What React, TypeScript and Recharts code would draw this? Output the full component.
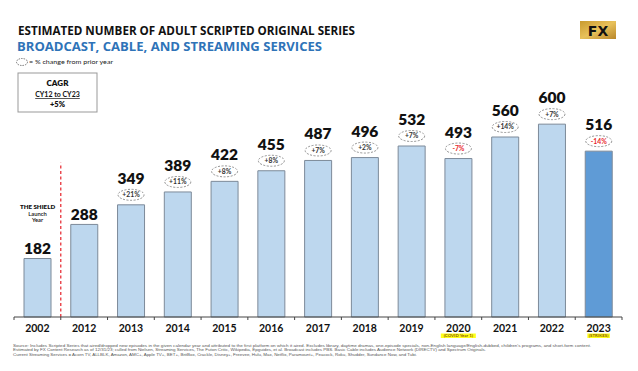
import React from 'react';
import { BarChart, Bar, XAxis, YAxis, Cell, LabelList, ReferenceLine } from 'recharts';

const years = ['2002', '2012', '2013', '2014', '2015', '2016', '2017', '2018', '2019', '2020', '2021', '2022', '2023'];
const seriesCounts = [182, 288, 349, 389, 422, 455, 487, 496, 532, 493, 560, 600, 516];
const pctChange = ['', '', '+21%', '+11%', '+8%', '+8%', '+7%', '+2%', '+7%', '-7%', '+14%', '+7%', '-14%'];
const yearNotes = ['', '', '', '', '', '', '', '', '', '(COVID Year 1)', '', '', '(STRIKES)'];
const highlightYear = '2023';
const launchYear = '2002';
const launchNote = ['THE SHIELD', 'Launch', 'Year'];

const data = years.map((y, i) => ({ year: y, count: seriesCounts[i], pct: pctChange[i], note: yearNotes[i] }));

const W = 638;
const H = 371;
const M = { top: 92, right: 16, bottom: 24, left: 14 };
const HALF_BAND = (W - M.left - M.right) / years.length / 2;
const FONT = 'Lato, "Open Sans", sans-serif';

const YearTick = (props: any) => {
  const { x, y, payload } = props;
  const idx = years.indexOf(payload.value);
  const note = yearNotes[idx];
  const isLast = idx === years.length - 1;
  return (
    <g>
      <line x1={x - HALF_BAND} x2={x - HALF_BAND} y1={y} y2={y + 3} stroke="#444" strokeWidth={1} />
      {isLast && <line x1={x + HALF_BAND} x2={x + HALF_BAND} y1={y} y2={y + 3} stroke="#444" strokeWidth={1} />}
      <text x={x} y={y + 15} textAnchor="middle" fontFamily={FONT} fontWeight={700} fontSize={10.5} fill="#111">
        {payload.value}
      </text>
      {note && (
        <g>
          <rect x={x - note.length * 1.25} y={y + 16.5} width={note.length * 2.5} height={4.5} fill="#ffff1a" />
          <text x={x} y={y + 20.3} textAnchor="middle" fontFamily={FONT} fontWeight={700} fontSize={4.4} fill="#8a5a00">
            {note}
          </text>
        </g>
      )}
    </g>
  );
};

const ValueLabel = (props: any) => {
  const { x, y, width, index } = props;
  const cx = x + width / 2;
  const pct = pctChange[index];
  const value = seriesCounts[index];
  const isLaunch = years[index] === launchYear;
  return (
    <g>
      {pct ? (
        <g>
          <ellipse cx={cx} cy={y - 10} rx={13} ry={5.5} fill="#fff" stroke="#777" strokeWidth={0.8} strokeDasharray="2 1.5" />
          <text x={cx} y={y - 7.6} textAnchor="middle" fontFamily={FONT} fontWeight={700} fontSize={6.8}
            fill={pct.startsWith('-') ? '#e8262b' : '#333'}>
            {pct}
          </text>
          <text x={cx} y={y - 21} textAnchor="middle" fontFamily={FONT} fontWeight={800} fontSize={15.5} fill="#111">
            {value}
          </text>
        </g>
      ) : (
        <text x={cx} y={y - 4.5} textAnchor="middle" fontFamily={FONT} fontWeight={800} fontSize={15.5} fill="#111">
          {value}
        </text>
      )}
      {isLaunch && (
        <g fontFamily={FONT} textAnchor="middle" fill="#111">
          <text x={cx} y={y - 50} fontSize={6.2} fontWeight={800}>{launchNote[0]}</text>
          <text x={cx} y={y - 43} fontSize={5.8} fontWeight={600}>{launchNote[1]}</text>
          <text x={cx} y={y - 36.5} fontSize={5.8} fontWeight={600}>{launchNote[2]}</text>
        </g>
      )}
    </g>
  );
};

export default function App() {
  return (
    <div style={{ position: 'absolute', left: 0, top: 0, width: W, height: H, background: '#fff' }}>
      <BarChart width={W} height={H} data={data} margin={M}>
        <XAxis
          dataKey="year"
          height={30}
          tick={<YearTick />}
          tickLine={false}
          tickSize={0}
          tickMargin={0}
          axisLine={{ stroke: '#444', strokeWidth: 1 }}
          interval={0}
        />
        <YAxis hide domain={[0, 700]} />
        <ReferenceLine
          segment={[{ x: launchYear, y: 0 }, { x: launchYear, y: 480 }]}
          position="end"
          stroke="#e8323a"
          strokeWidth={1.3}
          strokeDasharray="3 2.5"
          ifOverflow="visible"
        />
        <Bar dataKey="count" barSize={27} stroke="#7d8a99" strokeWidth={1} isAnimationActive={false}>
          {data.map((d) => (
            <Cell key={d.year} fill={d.year === highlightYear ? '#5f9bd6' : '#bdd7ee'} />
          ))}
          <LabelList dataKey="count" content={<ValueLabel />} />
        </Bar>
      </BarChart>
      <svg width={W} height={H} style={{ position: 'absolute', left: 0, top: 0, pointerEvents: 'none' }}>
        <text x={18} y={35} fontFamily='"Open Sans", sans-serif' fontWeight={700} fontSize={12.5} fill="#111"
          textLength={337} lengthAdjust="spacingAndGlyphs">
          ESTIMATED NUMBER OF ADULT SCRIPTED ORIGINAL SERIES
        </text>
        <text x={17} y={51} fontFamily='"Open Sans", sans-serif' fontWeight={700} fontSize={12.5} fill="#2e73b8"
          textLength={305} lengthAdjust="spacingAndGlyphs">
          BROADCAST, CABLE, AND STREAMING SERVICES
        </text>
        <ellipse cx={22} cy={62} rx={5.5} ry={3.5} fill="none" stroke="#444" strokeWidth={0.7} strokeDasharray="1.5 1" />
        <text x={29} y={64} fontFamily={FONT} fontSize={5.6} fill="#222" textLength={84} lengthAdjust="spacingAndGlyphs">
          = % change from prior year
        </text>
        <rect x={18} y={73} width={79} height={39} fill="#fff" stroke="#999" strokeWidth={1} />
        <text x={57.5} y={86} textAnchor="middle" fontFamily={FONT} fontWeight={800} fontSize={8} fill="#111">CAGR</text>
        <text x={57.5} y={97} textAnchor="middle" fontFamily={FONT} fontWeight={700} fontSize={7} fill="#111" textDecoration="underline">CY12 to CY23</text>
        <text x={57.5} y={107} textAnchor="middle" fontFamily={FONT} fontWeight={800} fontSize={7.5} fill="#111">+5%</text>
        <defs>
          <linearGradient id="gold" x1="0" y1="0" x2="1" y2="1">
            <stop offset="0%" stopColor="#c99a2e" />
            <stop offset="50%" stopColor="#e8c15a" />
            <stop offset="100%" stopColor="#b8862a" />
          </linearGradient>
        </defs>
        <rect x={580} y={21} width={36} height={18} fill="url(#gold)" />
        <text x={598} y={35.5} textAnchor="middle" fontFamily='"DejaVu Sans", sans-serif' fontWeight={800} fontSize={14} fill="#111">FX</text>
        <g fontFamily='"Liberation Sans", Arial, sans-serif' fontSize={4.3} fill="#555">
          <text x={13} y={346.5} textLength={578} lengthAdjust="spacingAndGlyphs">
            Source: Includes Scripted Series that aired/dropped new episodes in the given calendar year and attributed to the first platform on which it aired. Excludes library, daytime dramas, one-episode specials, non-English language/English-dubbed, children's programs, and short-form content.
          </text>
          <text x={13} y={351} textLength={473} lengthAdjust="spacingAndGlyphs">
            Estimated by FX Content Research as of 12/31/23; culled from Nielsen, Streaming Services, The Futon Critic, Wikipedia, Epguides, et al. Broadcast includes PBS. Basic Cable includes Audience Network (DIRECTV) and Spectrum Originals.
          </text>
          <text x={13} y={355.5} textLength={404} lengthAdjust="spacingAndGlyphs">
            Current Streaming Services = Acorn TV, ALLBLK, Amazon, AMC+, Apple TV+, BET+, BritBox, Crackle, Disney+, Freevee, Hulu, Max, Netflix, Paramount+, Peacock, Roku, Shudder, Sundance Now, and Tubi.
          </text>
        </g>
      </svg>
    </div>
  );
}
